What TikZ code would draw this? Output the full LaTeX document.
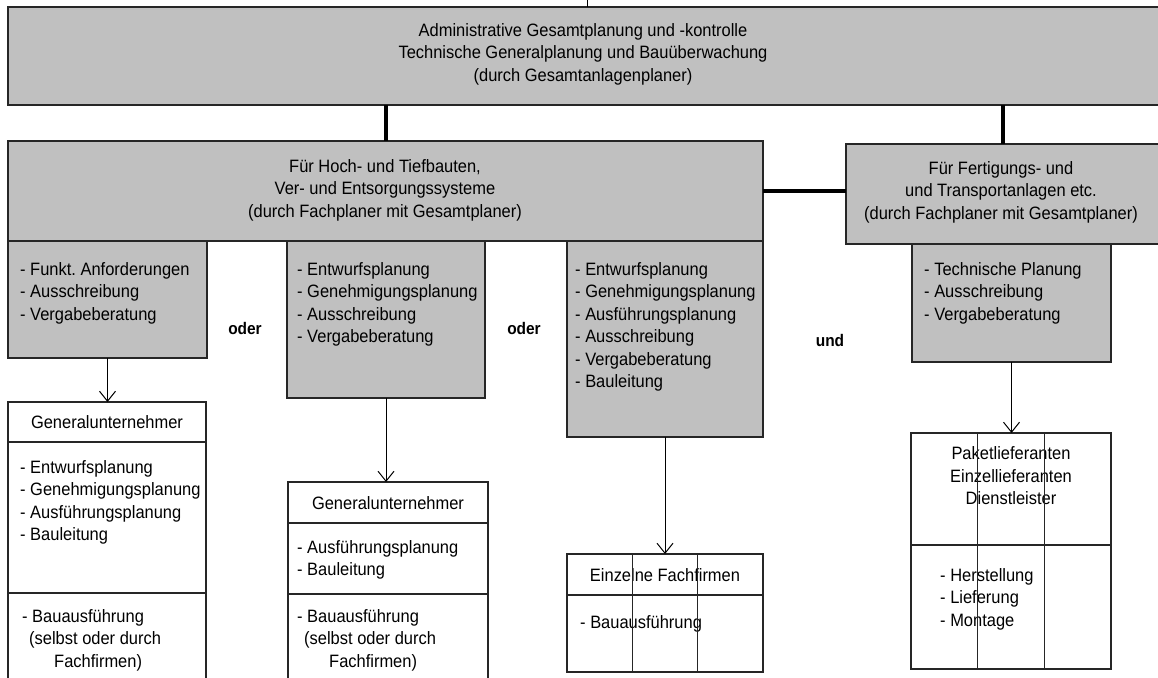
\documentclass[tikz,border=0pt]{standalone}
\usepackage{fontspec}
\setmainfont[FakeStretch=0.92]{Liberation Sans}
\usetikzlibrary{calc,arrows.meta}
\definecolor{planfill}{HTML}{C0C0C0}
\newcommand{\planfont}{\fontsize{17.9}{22.5}\selectfont}
\frenchspacing
\makeatletter
\pgfkeys{
  /plan/.cd,
  id/.store in=\plan@id,
  at/.store in=\plan@position,
  size/.code 2 args={\def\plan@width{#1}\def\plan@height{#2}},
  text at/.store in=\plan@textat,
  box options/.code={\tikzset{plan this box/.style={#1}}},
  text options/.code={\tikzset{plan this text/.style={#1}}},
}
\newcommand{\planbox}[2][]{
  \tikzset{plan this box/.style={},plan this text/.style={}}
  \pgfkeys{/plan/.cd,#1}
  \node[plan box,plan this box,minimum width=\plan@width,minimum height=\plan@height] (\plan@id) at \plan@position {};
  \node[plan list,plan this text] (\plan@id--text) at \plan@textat {#2};
}
\makeatother

\begin{document}
\begin{tikzpicture}[x=1pt,y=-1pt,
  plan box/.style={draw=black!85,line width=1.2pt,fill=planfill,inner sep=0pt,outer sep=0pt,anchor=north west},
    plan list/.style={font=\planfont,align=left,inner sep=0pt,anchor=north west},
    plan head/.style={font=\planfont,align=center,inner sep=0pt,anchor=center},
    plan word/.style={font=\bfseries\fontsize{16.8}{18}\selectfont,inner sep=0pt},
    plan rule/.style={draw=black!85,line width=1.2pt},
    plan link/.style={line width=4pt},
    plan arrow/.style={line width=1pt,-{Straight Barb[length=10pt,width=16pt]}},
  ]
  \path[fill=white] (0,0) rectangle (1158,677);
  \useasboundingbox (0,0) rectangle (1158,677);

  \planbox[id=plan-top,at={(8,7)},size={1152}{98},text at={(583,54)},text options={plan head}]{
    Administrative Gesamtplanung und -kontrolle\\
    Technische Generalplanung und Bauüberwachung\\
    (durch Gesamtanlagenplaner)}

  \planbox[id=plan-hoch,at={(8,141)},size={755}{100},text at={(385,190)},text options={plan head}]{
    Für Hoch- und Tiefbauten,\\
    Ver- und Entsorgungssysteme\\
    (durch Fachplaner mit Gesamtplaner)}
  \planbox[id=plan-fert,at={(846,144)},size={314}{100},text at={(1001,192)},text options={plan head}]{
    Für Fertigungs- und\\
    und Transportanlagen etc.\\
    (durch Fachplaner mit Gesamtplaner)}

  \planbox[id=plan-funkt,at={(8,241)},size={199}{117},text at={(20,262)}]{
    - Funkt. Anforderungen\\ - Ausschreibung\\ - Vergabeberatung}
  \planbox[id=plan-entwurf,at={(287,241)},size={198}{157},text at={(297,262)}]{
    - Entwurfsplanung\\ - Genehmigungsplanung\\ - Ausschreibung\\ - Vergabeberatung}
  \planbox[id=plan-ausf,at={(567,241)},size={196}{196},text at={(575,262)}]{
    - Entwurfsplanung\\ - Genehmigungsplanung\\ - Ausführungsplanung\\
    - Ausschreibung\\ - Vergabeberatung\\ - Bauleitung}
  \planbox[id=plan-tech,at={(912,244)},size={199}{118},text at={(924,262)}]{
    - Technische Planung\\ - Ausschreibung\\ - Vergabeberatung}

  \node[plan word] (word-oder-a) at (245,328) {oder};
  \node[plan word] (word-oder-b) at (524,328) {oder};
  \node[plan word] (word-und) at (830,340) {und};

  % ausfuehrende
  \planbox[id=gu-a,at={(8,402)},size={198}{278},box options={fill=white},text at={(20,460)}]{
    - Entwurfsplanung\\ - Genehmigungsplanung\\ - Ausführungsplanung\\ - Bauleitung}
  \node[plan head] (gu-a--head) at (107,422) {Generalunternehmer};
  \node[plan list] (gu-a--bau) at (22,609) {- Bauausführung\\
    \hspace*{7pt}(selbst oder durch\\ \hspace*{32pt}Fachfirmen)};
  \draw[plan rule] ($(gu-a.north west)+(0,40)$) -- ($(gu-a.north east)+(0,40)$);
  \draw[plan rule] ($(gu-a.north west)+(0,191)$) -- ($(gu-a.north east)+(0,191)$);

  \planbox[id=gu-b,at={(288,482)},size={200}{198},box options={fill=white},text at={(297,540)}]{
    - Ausführungsplanung\\ - Bauleitung}
  \node[plan head] (gu-b--head) at (388,503) {Generalunternehmer};
  \node[plan list] (gu-b--bau) at (297,609) {- Bauausführung\\
    \hspace*{7pt}(selbst oder durch\\ \hspace*{32pt}Fachfirmen)};
  \draw[plan rule] ($(gu-b.north west)+(0,41)$) -- ($(gu-b.north east)+(0,41)$);
  \draw[plan rule] ($(gu-b.north west)+(0,112)$) -- ($(gu-b.north east)+(0,112)$);

  \planbox[id=firmen,at={(567,554)},size={196}{118},box options={fill=white},text at={(580,615)}]{
    - Bauausführung}
  \node[plan head] (firmen--head) at (665,575) {Einzelne Fachfirmen};
  \draw[plan rule] ($(firmen.north west)+(0,41)$) -- ($(firmen.north east)+(0,41)$);
  \foreach \f in {1/3,2/3}
    \draw[plan rule] ($(firmen.north west)!\f!(firmen.north east)$) -- ($(firmen.south west)!\f!(firmen.south east)$);

  \planbox[id=paket,at={(911,433)},size={200}{236},box options={fill=white},text at={(940,568)}]{
    - Herstellung\\ - Lieferung\\ - Montage}
  \node[plan head] (paket--head) at (1011,476) {Paketlieferanten\\ Einzellieferanten\\ Dienstleister};
  \draw[plan rule] ($(paket.north west)+(0,112)$) -- ($(paket.north east)+(0,112)$);
  \foreach \f in {1/3,2/3}
    \draw[plan rule] ($(paket.north west)!\f!(paket.north east)$) -- ($(paket.south west)!\f!(paket.south east)$);

  % verbindungen
  \coordinate (page-top) at (587,0);
  \draw[line width=1pt] (page-top) -- (page-top |- plan-top.north);
  \draw[plan link] (plan-top.south -| plan-hoch.north) -- (plan-hoch.north);
  \draw[plan link] (plan-top.south -| plan-fert.north) -- (plan-fert.north);
  \draw[plan link] (plan-hoch.east) -- (plan-hoch.east -| plan-fert.west);
  \draw[plan arrow] (plan-funkt.south) -- (plan-funkt.south |- gu-a.north);
  \draw[plan arrow] (plan-entwurf.south) -- (plan-entwurf.south |- gu-b.north);
  \draw[plan arrow] (plan-ausf.south) -- (plan-ausf.south |- firmen.north);
  \draw[plan arrow] (plan-tech.south) -- (plan-tech.south |- paket.north);
\end{tikzpicture}
\end{document}
